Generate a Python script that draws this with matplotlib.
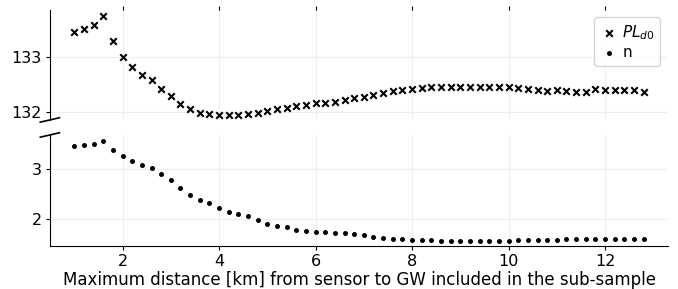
import numpy as np
import matplotlib
matplotlib.use("Agg")
import matplotlib.pyplot as plt

x_km = [round(1.0 + 0.2 * i, 1) for i in range(60)]

pl_d0 = [133.44, 133.51, 133.58, 133.74, 133.29, 132.99, 132.82, 132.67, 132.58, 132.42,
         132.29, 132.14, 132.04, 131.98, 131.96, 131.94, 131.94, 131.94, 131.95, 131.98,
         132.01, 132.04, 132.06, 132.10, 132.13, 132.15, 132.16, 132.18, 132.21, 132.24,
         132.26, 132.30, 132.34, 132.38, 132.40, 132.42, 132.43, 132.44, 132.45, 132.44,
         132.44, 132.44, 132.44, 132.44, 132.44, 132.44, 132.43, 132.42, 132.39, 132.37,
         132.39, 132.38, 132.36, 132.35, 132.41, 132.40, 132.40, 132.39, 132.39, 132.36]

n_vals = [3.46, 3.48, 3.50, 3.56, 3.38, 3.26, 3.17, 3.09, 3.03, 2.90,
          2.78, 2.62, 2.48, 2.38, 2.32, 2.22, 2.15, 2.10, 2.07, 1.99,
          1.91, 1.87, 1.84, 1.79, 1.76, 1.75, 1.74, 1.73, 1.72, 1.70,
          1.68, 1.65, 1.62, 1.61, 1.60, 1.58, 1.58, 1.58, 1.57, 1.57,
          1.57, 1.57, 1.57, 1.57, 1.57, 1.57, 1.58, 1.58, 1.59, 1.59,
          1.59, 1.60, 1.60, 1.60, 1.60, 1.60, 1.60, 1.60, 1.60, 1.60]

top_ticks = [132, 133]
bottom_ticks = [2, 3]
x_ticks = [2, 4, 6, 8, 10, 12]

plt.rcParams['font.size'] = 11
fig = plt.figure(figsize=(6.78, 2.89), dpi=100)
ax1 = fig.add_axes([0.074, 0.585, 0.911, 0.381])
ax2 = fig.add_axes([0.074, 0.149, 0.911, 0.384], sharex=ax1)

h1 = ax1.scatter(x_km, pl_d0, marker='x', color='black', s=22, linewidths=1.5, label='$PL_{d0}$')
h2 = ax2.scatter(x_km, n_vals, marker='.', color='black', s=26, label='n')

ax1.set_ylim(131.85, 133.85)
ax2.set_ylim(1.47, 3.68)
ax1.set_xlim(0.5, 13.3)
ax1.set_yticks(top_ticks)
ax2.set_yticks(bottom_ticks)
ax2.set_xticks(x_ticks)

for ax in (ax1, ax2):
    ax.grid(True, color='#eeeeee', linewidth=0.8)
    ax.set_axisbelow(True)
    ax.spines['right'].set_visible(False)
    ax.spines['top'].set_visible(False)
    ax.tick_params(labelsize=11.5, length=3, pad=3)

ax1.spines['bottom'].set_visible(False)
ax1.xaxis.tick_top()
ax1.tick_params(axis='x', labeltop=False, length=3)
ax2.xaxis.tick_bottom()

kw = dict(color='k', clip_on=False, linewidth=1.2)
ax1.plot((-0.016, 0.015), (-0.02, 0.02), transform=ax1.transAxes, **kw)
ax2.plot((-0.016, 0.015), (0.98, 1.02), transform=ax2.transAxes, **kw)

ax2.set_xlabel('Maximum distance [km] from sensor to GW included in the sub-sample', fontsize=12, labelpad=1)

ax1.legend(handles=[h1, h2], loc='upper right', fontsize=11, handletextpad=0.3,
           handlelength=1.2, borderpad=0.35, labelspacing=0.25)

fig.savefig('out.png', dpi=100)
